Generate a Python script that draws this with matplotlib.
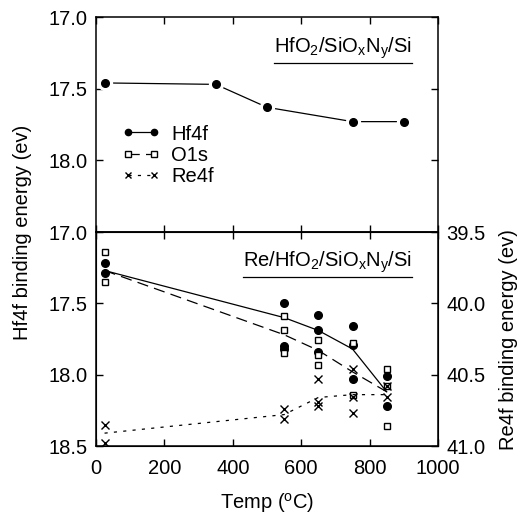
"""
Hf4f / O1s / Re4f binding energy vs anneal temperature
"""

import numpy as np
import matplotlib
matplotlib.use('Agg')
import matplotlib.pyplot as plt
from matplotlib.lines import Line2D

plt.rcParams['font.family'] = ['Liberation Sans', 'DejaVu Sans']
plt.rcParams['mathtext.fontset'] = 'custom'
plt.rcParams['mathtext.rm'] = 'Liberation Sans'
plt.rcParams['mathtext.it'] = 'Liberation Sans:italic'

FS = 14.5

# --- top panel: HfO2/SiOxNy/Si ---
top_temp = [25, 350, 500, 750, 900]
top_hf = [17.46, 17.47, 17.63, 17.73, 17.73]

# --- bottom panel: Re/HfO2/SiOxNy/Si (scatter) ---
hf_temp = [25, 25, 550, 550, 550, 650, 650, 650, 750, 750, 750, 850, 850]
hf_val = [17.22, 17.29, 17.50, 17.80, 17.82, 17.58, 17.69, 17.84, 17.66, 17.79, 18.03, 18.01, 18.22]

o_temp = [25, 25, 550, 550, 550, 650, 650, 650, 750, 750, 850, 850, 850]
o_val = [17.14, 17.35, 17.59, 17.69, 17.85, 17.76, 17.86, 17.93, 17.78, 18.14, 17.96, 18.08, 18.36]

re_temp = [25, 25, 550, 550, 650, 650, 650, 750, 750, 750, 850, 850]
re_val = [40.85, 40.98, 40.74, 40.81, 40.53, 40.69, 40.72, 40.46, 40.66, 40.77, 40.58, 40.66]

# averaged curves
avg_temp = [25, 550, 650, 750, 850]
hf_avg = [17.27, 17.60, 17.69, 17.82, 18.12]
o_avg = [17.27, 17.72, 17.83, 17.98, 18.12]
re_avg = [40.91, 40.78, 40.66, 40.64, 40.64]

x_ticks = [0, 200, 400, 600, 800, 1000]
hf_ticks = [17.0, 17.5, 18.0, 18.5]
re_ticks = [39.5, 40.0, 40.5, 41.0]

W, H = 520, 514
fig = plt.figure(figsize=(W / 100, H / 100), dpi=100)

x0, x1 = 96 / W, 438 / W
ax_top = fig.add_axes([x0, 1 - 232 / H, x1 - x0, (232 - 17) / H])
ax_bot = fig.add_axes([x0, 1 - 446 / H, x1 - x0, (446 - 232) / H])

dashed = (0, (9, 5))
dotted = (0, (2.5, 5))


def style_axis(ax):
    ax.set_xlim(0, 1000)
    ax.set_ylim(18.5, 17.0)
    ax.set_xticks(x_ticks)
    ax.set_yticks(hf_ticks)
    ax.tick_params(direction='in', length=5, width=1, labelsize=FS,
                   top=True, right=True, pad=6)
    for s in ax.spines.values():
        s.set_linewidth(1.1)


# 1. top panel
style_axis(ax_top)
ax_top.set_yticklabels(['17.0', '17.5', '18.0', ''])
ax_top.tick_params(labelbottom=False)
ax_top.plot(top_temp, top_hf, '-', color='black', lw=0.9, zorder=2)
ax_top.plot(top_temp, top_hf, 'o', color='white', ms=10, zorder=3)
ax_top.plot(top_temp, top_hf, 'o', color='black', ms=5.5, zorder=4)

handles = [
    Line2D([], [], color='black', ls='-', lw=0.9, marker='o', ms=4.5),
    Line2D([], [], color='black', ls=dashed, lw=0.9, marker='s', ms=4.5,
           mfc='white'),
    Line2D([], [], color='black', ls=dotted, lw=0.9, marker='x', ms=5),
]
ax_top.legend(handles, ['Hf4f', 'O1s', 'Re4f'], loc='upper left',
              bbox_to_anchor=(0.075, 0.50), frameon=False, fontsize=FS,
              handlelength=1.9, handletextpad=0.55, labelspacing=0.12,
              borderpad=0, borderaxespad=0, numpoints=2)

t_top = ax_top.text(0.924, 0.833, r'HfO$_2$/SiO$_\mathrm{x}$N$_\mathrm{y}$/Si',
                    transform=ax_top.transAxes, ha='right', va='baseline', fontsize=FS)

# 2. bottom panel
style_axis(ax_bot)
ax_bot.tick_params(right=False)
ax_bot.set_yticklabels(['17.0', '17.5', '18.0', '18.5'])
ax_bot.tick_params(axis='x', pad=9)

ax_bot.plot(avg_temp, hf_avg, '-', color='black', lw=0.9)
ax_bot.plot(avg_temp, o_avg, ls=dashed, color='black', lw=0.9)
ax_bot.plot(hf_temp, hf_val, 'o', color='black', ms=5.5, ls='none')
ax_bot.plot(o_temp, o_val, 's', color='black', mfc='white', ms=5, mew=1, ls='none')

ax_re = ax_bot.twinx()
ax_re.set_ylim(41.0, 39.5)
ax_re.set_yticks(re_ticks)
ax_re.set_yticklabels(['39.5', '40.0', '40.5', '41.0'])
ax_re.tick_params(direction='in', length=5, width=1, labelsize=FS, pad=6)
ax_re.plot(avg_temp, re_avg, ls=dotted, color='black', lw=0.9)
ax_re.plot(re_temp, re_val, 'x', color='black', ms=5.5, mew=1, ls='none')

t_bot = ax_bot.text(0.924, 0.836, r'Re/HfO$_2$/SiO$_\mathrm{x}$N$_\mathrm{y}$/Si',
                    transform=ax_bot.transAxes, ha='right', va='baseline', fontsize=FS)

ax_bot.set_xlabel(r'Temp ($^{\mathrm{o}}$C)', fontsize=FS, labelpad=10)

fig.text(23 / W, 1 - 232 / H, 'Hf4f binding energy (ev)', rotation=90,
         ha='center', va='center', fontsize=FS)
fig.text(509 / W, 1 - 340 / H, 'Re4f binding energy (ev)', rotation=90,
         ha='center', va='center', fontsize=FS)

# underline the sample labels
fig.canvas.draw()
renderer = fig.canvas.get_renderer()
for ax, t in [(ax_top, t_top), (ax_bot, t_bot)]:
    bb = t.get_window_extent(renderer).transformed(ax.transAxes.inverted())
    yline = bb.y0 - 0.008
    ax.add_line(Line2D([bb.x0, bb.x1], [yline, yline], transform=ax.transAxes,
                       color='black', lw=0.9, clip_on=False))

fig.savefig('out.png', dpi=100)
